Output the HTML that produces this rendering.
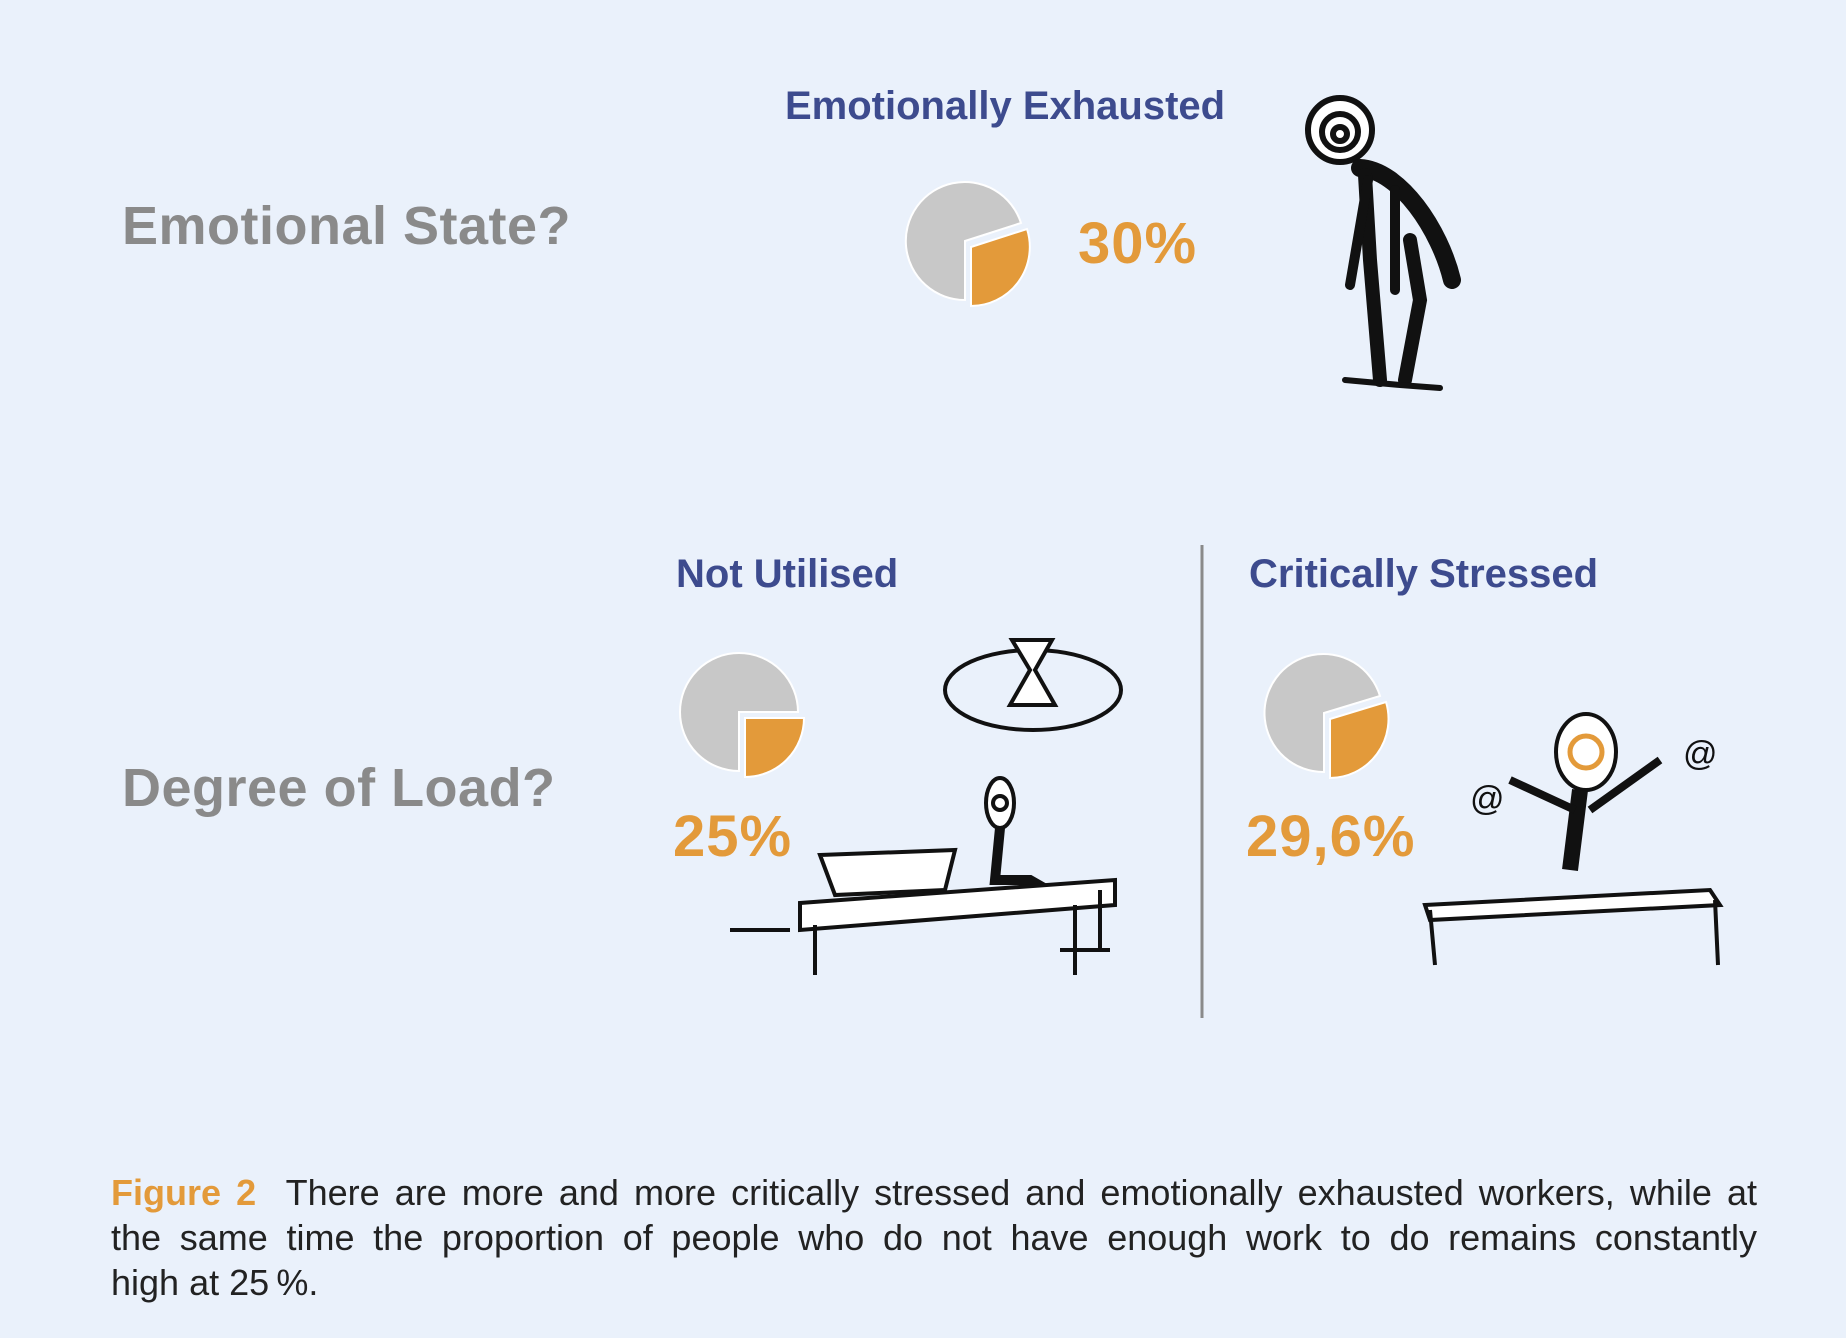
<!DOCTYPE html>
<html><head><meta charset="utf-8"><style>
html,body{margin:0;padding:0}
body{width:1846px;height:1338px;background:#eaf1fb;position:relative;overflow:hidden;font-family:"Liberation Sans","DejaVu Sans",sans-serif}
.t{position:absolute;white-space:nowrap;font-weight:bold}
.q{color:#8a8a8a;font-size:54px;letter-spacing:0.5px}
.h{color:#3d4b8e;font-size:40px}
.p{color:#e39a3a;font-size:58px;letter-spacing:1px}
.cap{position:absolute;left:111px;top:1170px;width:1646px;font-size:36px;line-height:45px;color:#222}
.cap div{text-align:justify;text-align-last:justify;white-space:nowrap}
.cap div.l{text-align-last:left}
.cap b{color:#e39a3a}
</style></head><body>
<div class="t q" style="left:122px;top:195px">Emotional State?</div>
<div class="t q" style="left:122px;top:757px">Degree of Load?</div>
<div class="t h" style="left:785px;top:84px">Emotionally Exhausted</div>
<div class="t h" style="left:676px;top:552px">Not Utilised</div>
<div class="t h" style="left:1249px;top:552px">Critically Stressed</div>
<div class="t p" style="left:1078px;top:210px">30%</div>
<div class="t p" style="left:673px;top:803px">25%</div>
<div class="t p" style="left:1246px;top:803px">29,6%</div>
<svg width="1846" height="1338" style="position:absolute;left:0;top:0">
<g stroke="#fff" stroke-width="2">
<path d="M965,241 L1021,223 A59,59 0 1,0 965,300 Z" fill="#c8c8c8"/>
<path d="M971,247 L1027,229 A59,59 0 0,1 971,306 Z" fill="#e39a3a"/>
<path d="M739,712 L798,712 A59,59 0 1,0 739,771 Z" fill="#c8c8c8"/>
<path d="M745,718 L804,718 A59,59 0 0,1 745,777 Z" fill="#e39a3a"/>
<path d="M1324,713 L1380,696 A59,59 0 1,0 1324,772 Z" fill="#c8c8c8"/>
<path d="M1330,719 L1386,702 A59,59 0 0,1 1330,778 Z" fill="#e39a3a"/>
</g>
<line x1="1202" y1="545" x2="1202" y2="1018" stroke="#8a8a8a" stroke-width="3"/>
<g stroke="#111" fill="none" stroke-width="6" stroke-linecap="round">
<circle cx="1340" cy="130" r="32" fill="#fff"/>
<circle cx="1340" cy="132" r="18"/><circle cx="1340" cy="134" r="7"/>
<path d="M1360,168 C1400,170 1440,230 1452,280" stroke-width="18"/>
<path d="M1365,175 L1370,260 L1380,380" stroke-width="14"/>
<path d="M1410,240 L1420,300 L1405,380" stroke-width="14"/>
<path d="M1368,180 L1350,285" stroke-width="10"/>
<path d="M1395,190 L1395,290" stroke-width="10"/>
<path d="M1345,380 L1400,385 M1400,385 L1440,388" stroke-width="6"/>
</g>
<g stroke="#111" fill="none" stroke-width="4">
<ellipse cx="1033" cy="690" rx="88" ry="40"/>
<path d="M1012,640 L1052,640 L1035,670 L1055,705 L1010,705 L1030,670 Z" fill="#fff"/>
<ellipse cx="1000" cy="803" rx="14" ry="25" fill="#fff"/><circle cx="1000" cy="803" r="7"/>
<path d="M1000,828 L995,880 L1030,880 L1065,900" stroke-width="10"/>
<path d="M800,903 L1115,880 L1115,905 L800,930 Z" fill="#fff"/>
<path d="M815,925 L815,975 M1075,905 L1075,975 M1100,890 L1100,950"/>
<path d="M820,855 L955,850 L945,890 L835,895 Z" fill="#fff"/>
<path d="M730,930 L790,930 M1060,950 L1110,950"/>
</g>
<g stroke="#111" fill="none" stroke-width="4">
<ellipse cx="1586" cy="752" rx="30" ry="38" fill="#fff"/>
<circle cx="1586" cy="752" r="16" stroke="#e39a3a" stroke-width="5"/>
<path d="M1580,790 L1570,870" stroke-width="16"/>
<path d="M1575,810 L1510,780 M1590,810 L1660,760" stroke-width="8"/>
<path d="M1425,905 L1710,890 L1720,905 L1430,920 Z" fill="#fff"/>
<path d="M1430,910 L1435,965 M1715,900 L1718,965"/>
<text x="1470" y="810" font-size="34" fill="#111" stroke="none" font-family="Liberation Sans">@</text>
<text x="1683" y="765" font-size="34" fill="#111" stroke="none" font-family="Liberation Sans">@</text>
</g>
</svg>
<div class="cap">
<div><b>Figure 2</b>&nbsp; There are more and more critically stressed and emotionally exhausted workers, while at</div>
<div>the same time the proportion of people who do not have enough work to do remains constantly</div>
<div class="l">high at 25&#8201;%.</div>
</div>
</body></html>
